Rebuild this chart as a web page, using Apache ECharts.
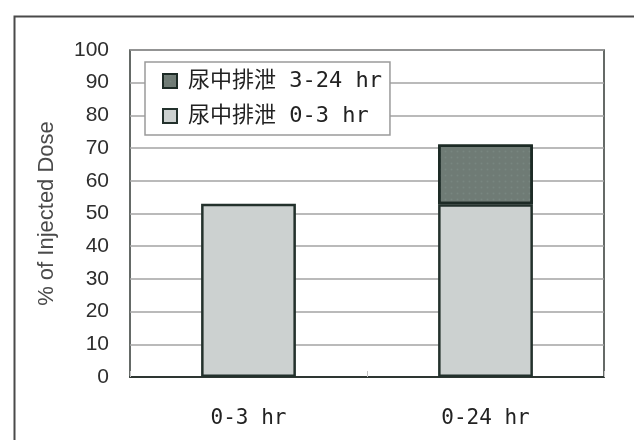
<!DOCTYPE html>
<html>
<head>
<meta charset="utf-8">
<script src="https://cdn.jsdelivr.net/npm/echarts@6/dist/echarts.min.js"></script>
<style>
  html, body { margin: 0; padding: 0; background: #ffffff; }
  #chart { width: 634px; height: 440px; }
</style>
</head>
<body>
<div id="chart"></div>
<script>
// Urinary excretion (% of injected dose) per collection period
const categories = ['0-3 hr', '0-24 hr'];
const seriesNames = ['尿中排泄 0-3 hr', '尿中排泄 3-24 hr'];
const excretion0to3 = [53, 52.8];
const excretion3to24 = [null, 18.3];
const yTicks = { min: 0, max: 100, interval: 10 };

const monoJP = "'DejaVu Sans Mono', 'Noto Sans CJK JP', sans-serif";
const sans = "'Liberation Sans', Arial, sans-serif";

const chart = echarts.init(document.getElementById('chart'), null, { renderer: 'canvas' });

chart.setOption({
  backgroundColor: '#ffffff',
  animation: false,
  graphic: [{
    type: 'rect',
    left: 12, top: 14,
    shape: { width: 700, height: 520 },
    style: { fill: 'none', stroke: '#4a4a4a', lineWidth: 2 },
    silent: true,
    z: -1
  }],
  grid: {
    left: 130, right: 30, top: 50, bottom: 63,
    show: true,
    borderColor: '#333a36',
    borderWidth: 1.5,
    backgroundColor: 'transparent'
  },
  legend: {
    orient: 'vertical',
    left: 145, top: 62,
    data: [seriesNames[1], seriesNames[0]],
    itemWidth: 14, itemHeight: 14,
    itemGap: 13,
    padding: [8, 8, 8, 17],
    backgroundColor: '#ffffff',
    borderColor: '#9a9a9a',
    borderWidth: 1.5,
    borderRadius: 0,
    icon: 'rect',
    textStyle: { fontFamily: monoJP, fontSize: 22, color: '#222222', padding: [0, 0, 0, 6] }
  },
  xAxis: {
    type: 'category',
    data: categories,
    axisLine: { show: true, lineStyle: { color: '#2e3632', width: 2 } },
    axisTick: { show: true, inside: true, length: 6, lineStyle: { color: '#c4c4c4' } },
    axisLabel: { margin: 31, fontFamily: monoJP, fontSize: 21, color: '#222222' }
  },
  yAxis: {
    type: 'value',
    min: yTicks.min, max: yTicks.max, interval: yTicks.interval,
    name: '% of Injected Dose',
    nameLocation: 'middle',
    nameGap: 72,
    nameTextStyle: { fontFamily: sans, fontSize: 22, color: '#4a4a4a' },
    axisLine: { show: false },
    axisTick: { show: false },
    axisLabel: { margin: 21, fontFamily: sans, fontSize: 21, color: '#2e2e2e' },
    splitLine: { show: true, lineStyle: { color: '#a3a3a3', width: 1.5 } }
  },
  series: [
    {
      name: seriesNames[0],
      type: 'bar',
      stack: 'total',
      barWidth: '40%',
      data: excretion0to3,
      itemStyle: { color: '#ccd1d0', borderColor: '#23312c', borderWidth: 2.5 }
    },
    {
      name: seriesNames[1],
      type: 'bar',
      stack: 'total',
      barWidth: '40%',
      data: excretion3to24,
      itemStyle: {
        color: '#6f7b75',
        borderColor: '#1c2a25',
        borderWidth: 2.5,
        decal: {
          symbol: 'rect',
          symbolSize: 0.6,
          dashArrayX: [3, 3],
          dashArrayY: [3, 3],
          rotation: 0,
          color: 'rgba(140,155,148,0.35)'
        }
      }
    }
  ]
});
</script>
</body>
</html>
